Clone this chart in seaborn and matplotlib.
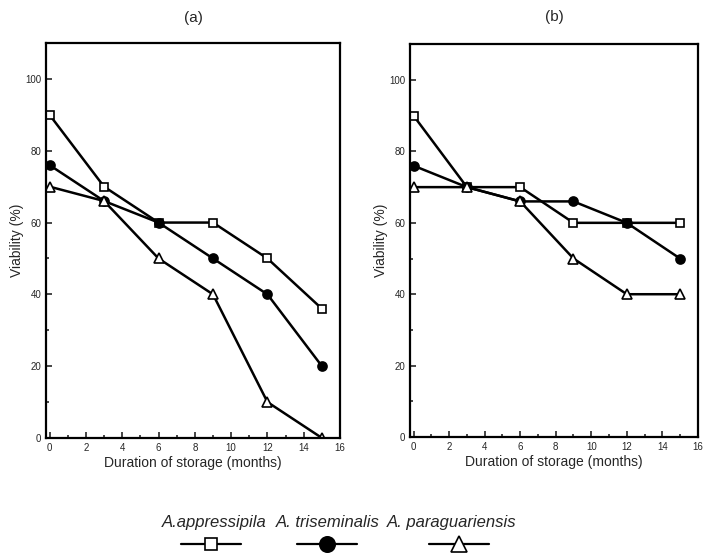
import matplotlib
matplotlib.use("Agg")
import matplotlib.pyplot as plt
from matplotlib.lines import Line2D
import seaborn as sns
import pandas as pd

months = [0, 3, 6, 9, 12, 15]
species = ["A.appressipila", "A. triseminalis", "A. paraguariensis"]

a_appressipila = [90, 70, 60, 60, 50, 36]
a_triseminalis = [76, 66, 60, 50, 40, 20]
a_paraguariensis = [70, 66, 50, 40, 10, 0]

b_appressipila = [90, 70, 70, 60, 60, 60]
b_triseminalis = [76, 70, 66, 66, 60, 50]
b_paraguariensis = [70, 70, 66, 50, 40, 40]

panel_titles = ["(a)", "(b)"]
x_ticks = [0, 2, 4, 6, 8, 10, 12, 14, 16]
y_ticks = [0, 20, 40, 60, 80, 100]

rows = []
for panel, series in zip(panel_titles, [[a_appressipila, a_triseminalis, a_paraguariensis],
                                        [b_appressipila, b_triseminalis, b_paraguariensis]]):
    for sp, vals in zip(species, series):
        for m, v in zip(months, vals):
            rows.append({"panel": panel, "species": sp, "month": m, "viability": v})
df = pd.DataFrame(rows)

sns.set_style("ticks")
plt.rcParams["font.family"] = ["Liberation Sans", "DejaVu Sans"]

styles = {
    "A.appressipila": dict(marker="s", markerfacecolor="white", markersize=5.5),
    "A. triseminalis": dict(marker="o", markerfacecolor="black", markersize=6.5),
    "A. paraguariensis": dict(marker="^", markerfacecolor="white", markersize=6.5),
}

fig = plt.figure(figsize=(7.07, 5.57), dpi=100)
positions = [[0.065, 0.2137, 0.416, 0.709], [0.580, 0.2154, 0.407, 0.705]]
title_pads = [15, 17]

for panel, pos, tp in zip(panel_titles, positions, title_pads):
    ax = fig.add_axes(pos)
    sub = df[df["panel"] == panel]
    for sp in species:
        d = sub[sub["species"] == sp]
        sns.lineplot(data=d, x="month", y="viability", ax=ax, color="black",
                     linewidth=1.8, markeredgecolor="black", markeredgewidth=1.2,
                     legend=False, **styles[sp])
    ax.set_xlim(-0.2, 16)
    ax.set_ylim(0, 110)
    ax.set_xticks(x_ticks)
    ax.set_yticks(y_ticks)
    ax.set_xticks(range(0, 17), minor=True)
    ax.set_yticks(range(0, 111, 10), minor=True)
    ax.tick_params(axis="both", which="both", direction="in", labelsize=7, width=1.2)
    ax.tick_params(axis="both", which="major", length=4)
    ax.tick_params(axis="both", which="minor", length=2.5)
    ax.tick_params(top=False, right=False)
    for s in ax.spines.values():
        s.set_visible(True)
        s.set_linewidth(1.6)
        s.set_color("black")
    ax.set_xlabel("Duration of storage (months)", fontsize=10, labelpad=2)
    ax.set_ylabel("Viability (%)", fontsize=10, labelpad=1)
    ax.set_title(panel, fontsize=11, pad=tp)

# legend: labels above handles
label_centers = [214.5 / 707, 327.5 / 707, 452 / 707]
handle_centers = [205 / 707, 321 / 707, 453 / 707]
for sp, lx, hx in zip(species, label_centers, handle_centers):
    fig.text(lx, 1 - 527 / 557, sp, ha="center", va="baseline", fontsize=12, style="italic")
    h = Line2D([], [], color="black", linewidth=1.6, markeredgecolor="black",
               markeredgewidth=1.2, **{k: v * 1.7 if k == "markersize" else v
                                      for k, v in styles[sp].items()})
    fig.legend([h], [""], loc="center", bbox_to_anchor=(hx + 0.008, 1 - 545 / 557),
               frameon=False, handlelength=4.3, handletextpad=0, borderpad=0)

fig.savefig("out.png", dpi=100)
